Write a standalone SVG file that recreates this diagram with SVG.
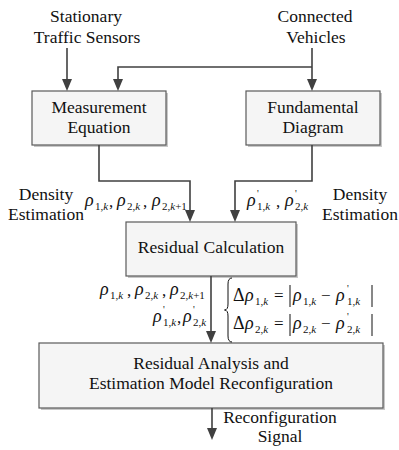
<svg xmlns="http://www.w3.org/2000/svg" width="399" height="450" viewBox="0 0 399 450">
  <!-- source labels -->
  <g id="sensors" fill="#111" font-size="17.5" text-anchor="middle">
    <text font-family="Liberation Serif" x="86" y="22">Stationary</text>
    <text font-family="Liberation Serif" x="87" y="43">Traffic Sensors</text>
  </g>
  <g id="vehicles" fill="#111" font-size="17.5" text-anchor="middle">
    <text font-family="Liberation Serif" x="315" y="22">Connected</text>
    <text font-family="Liberation Serif" x="316" y="43">Vehicles</text>
  </g>

  <!-- processing blocks: drop shadow, then box, then caption -->
  <g id="measurement" fill="#111" font-size="17.5" text-anchor="middle">
    <rect x="34" y="93" width="134" height="54" fill="#c8c8c8"/>
    <rect x="32" y="91" width="134" height="54" fill="#f5f5f5" stroke="#5a5a5a" stroke-width="1.2"/>
    <text font-family="Liberation Serif" x="99" y="113">Measurement</text>
    <text font-family="Liberation Serif" x="99" y="133">Equation</text>
  </g>
  <g id="fundamental" fill="#111" font-size="17.5" text-anchor="middle">
    <rect x="248" y="93" width="134" height="54" fill="#c8c8c8"/>
    <rect x="246" y="91" width="134" height="54" fill="#f5f5f5" stroke="#5a5a5a" stroke-width="1.2"/>
    <text font-family="Liberation Serif" x="313" y="113">Fundamental</text>
    <text font-family="Liberation Serif" x="313" y="133">Diagram</text>
  </g>
  <g id="residual" fill="#111" font-size="17.5" text-anchor="middle">
    <rect x="128" y="224" width="170" height="54" fill="#c8c8c8"/>
    <rect x="126" y="222" width="170" height="54" fill="#f5f5f5" stroke="#5a5a5a" stroke-width="1.2"/>
    <text font-family="Liberation Serif" x="211" y="253">Residual Calculation</text>
  </g>
  <g id="analysis" fill="#111" font-size="17.5" text-anchor="middle">
    <rect x="41" y="345" width="344" height="65" fill="#c8c8c8"/>
    <rect x="39" y="343" width="344" height="65" fill="#f5f5f5" stroke="#5a5a5a" stroke-width="1.2"/>
    <text font-family="Liberation Serif" x="211" y="369">Residual Analysis and</text>
    <text font-family="Liberation Serif" x="211" y="389">Estimation Model Reconfiguration</text>
  </g>

  <!-- connectors: lines plus filled arrowheads -->
  <g id="connectors">
    <g fill="none" stroke="#404040" stroke-width="1.6">
      <path d="M67,48 V80"/>
      <path d="M312,48 V80"/>
      <path d="M312,67 H118 V80"/>
      <path d="M99,145 V181 H190 V211"/>
      <path d="M312,145 V181 H235 V211"/>
      <path d="M211,276 V332"/>
      <path d="M212,408 V429"/>
    </g>
    <g fill="#404040">
      <polygon points="62,79 72,79 67,91"/>
      <polygon points="307,79 317,79 312,91"/>
      <polygon points="113,79 123,79 118,91"/>
      <polygon points="185,210 195,210 190,222"/>
      <polygon points="230,210 240,210 235,222"/>
      <polygon points="206,331 216,331 211,343"/>
      <polygon points="207,428 217,428 212,440"/>
    </g>
  </g>

  <!-- connector labels -->
  <g id="label-density-left" fill="#111" font-size="17.5" text-anchor="middle">
    <text font-family="Liberation Serif" x="46" y="200">Density</text>
    <text font-family="Liberation Serif" x="46" y="220">Estimation</text>
  </g>
  <g id="label-density-right" fill="#111" font-size="17.5" text-anchor="middle">
    <text font-family="Liberation Serif" x="360" y="200">Density</text>
    <text font-family="Liberation Serif" x="360" y="220">Estimation</text>
  </g>
  <g id="label-signal" fill="#111" font-size="17.5" text-anchor="middle">
    <text font-family="Liberation Serif" x="280" y="423">Reconfiguration</text>
    <text font-family="Liberation Serif" x="280" y="442">Signal</text>
  </g>

  <!-- measured densities (top left) -->
  <g id="rho-measured" fill="#111">
    <text font-family="Liberation Serif" font-size="18" font-style="italic" x="85" y="206">ρ</text>
    <text font-family="Liberation Serif" font-size="11" x="95" y="210">1,<tspan font-style="italic">k</tspan></text>
    <text font-family="Liberation Serif" font-size="17" x="109" y="207">,</text>
    <text font-family="Liberation Serif" font-size="18" font-style="italic" x="117" y="206">ρ</text>
    <text font-family="Liberation Serif" font-size="11" x="127" y="210">2,<tspan font-style="italic">k</tspan></text>
    <text font-family="Liberation Serif" font-size="17" x="143" y="207">,</text>
    <text font-family="Liberation Serif" font-size="18" font-style="italic" x="152" y="206">ρ</text>
    <text font-family="Liberation Serif" font-size="11" x="162" y="210">2,<tspan font-style="italic">k</tspan>+1</text>
  </g>

  <!-- fundamental diagram densities (top right) -->
  <g id="rho-fd" fill="#111">
    <text font-family="Liberation Serif" font-size="18" font-style="italic" x="247" y="206">ρ</text>
    <text font-family="Liberation Serif" font-size="10" x="257" y="197">'</text>
    <text font-family="Liberation Serif" font-size="11" x="257" y="210">1,<tspan font-style="italic">k</tspan></text>
    <text font-family="Liberation Serif" font-size="17" x="276" y="207">,</text>
    <text font-family="Liberation Serif" font-size="18" font-style="italic" x="285" y="206">ρ</text>
    <text font-family="Liberation Serif" font-size="10" x="295" y="197">'</text>
    <text font-family="Liberation Serif" font-size="11" x="295" y="210">2,<tspan font-style="italic">k</tspan></text>
  </g>

  <!-- densities passed to analysis -->
  <g id="rho-all" fill="#111">
    <text font-family="Liberation Serif" font-size="18" font-style="italic" x="100" y="295">ρ</text>
    <text font-family="Liberation Serif" font-size="11" x="110" y="299">1,<tspan font-style="italic">k</tspan></text>
    <text font-family="Liberation Serif" font-size="17" x="127" y="296">,</text>
    <text font-family="Liberation Serif" font-size="18" font-style="italic" x="135" y="295">ρ</text>
    <text font-family="Liberation Serif" font-size="11" x="145" y="299">2,<tspan font-style="italic">k</tspan></text>
    <text font-family="Liberation Serif" font-size="17" x="162" y="296">,</text>
    <text font-family="Liberation Serif" font-size="18" font-style="italic" x="170" y="295">ρ</text>
    <text font-family="Liberation Serif" font-size="11" x="180" y="299">2,<tspan font-style="italic">k</tspan>+1</text>
    <text font-family="Liberation Serif" font-size="18" font-style="italic" x="153" y="322">ρ</text>
    <text font-family="Liberation Serif" font-size="10" x="163" y="313">'</text>
    <text font-family="Liberation Serif" font-size="11" x="163" y="326">1,<tspan font-style="italic">k</tspan></text>
    <text font-family="Liberation Serif" font-size="17" x="177" y="323">,</text>
    <text font-family="Liberation Serif" font-size="18" font-style="italic" x="183" y="322">ρ</text>
    <text font-family="Liberation Serif" font-size="10" x="193" y="313">'</text>
    <text font-family="Liberation Serif" font-size="11" x="193" y="326">2,<tspan font-style="italic">k</tspan></text>
  </g>

  <!-- residual equations -->
  <g id="residual-eq" fill="#111">
    <path d="M232,278 Q228,278 228,284 L228,304 Q228,310 224.5,310 Q228,310 228,316 L228,336 Q228,342 232,342" fill="none" stroke="#111" stroke-width="1"/>
    <text font-family="Liberation Serif" font-size="18" x="233" y="301">Δ</text>
    <text font-family="Liberation Serif" font-size="18" font-style="italic" x="245" y="301">ρ</text>
    <text font-family="Liberation Serif" font-size="11" x="255" y="305">1,<tspan font-style="italic">k</tspan></text>
    <text font-family="Liberation Serif" font-size="17" x="274" y="301">=</text>
    <line x1="290" y1="285" x2="290" y2="307" stroke="#111" stroke-width="1"/>
    <text font-family="Liberation Serif" font-size="18" font-style="italic" x="293" y="301">ρ</text>
    <text font-family="Liberation Serif" font-size="11" x="303" y="305">1,<tspan font-style="italic">k</tspan></text>
    <text font-family="Liberation Serif" font-size="17" x="321" y="301">−</text>
    <text font-family="Liberation Serif" font-size="18" font-style="italic" x="336" y="301">ρ</text>
    <text font-family="Liberation Serif" font-size="10" x="347" y="292">'</text>
    <text font-family="Liberation Serif" font-size="11" x="347" y="305">1,<tspan font-style="italic">k</tspan></text>
    <line x1="372" y1="285" x2="372" y2="307" stroke="#111" stroke-width="1"/>

    <text font-family="Liberation Serif" font-size="18" x="233" y="329">Δ</text>
    <text font-family="Liberation Serif" font-size="18" font-style="italic" x="245" y="329">ρ</text>
    <text font-family="Liberation Serif" font-size="11" x="255" y="333">2,<tspan font-style="italic">k</tspan></text>
    <text font-family="Liberation Serif" font-size="17" x="274" y="329">=</text>
    <line x1="290" y1="314" x2="290" y2="336" stroke="#111" stroke-width="1"/>
    <text font-family="Liberation Serif" font-size="18" font-style="italic" x="293" y="329">ρ</text>
    <text font-family="Liberation Serif" font-size="11" x="303" y="333">2,<tspan font-style="italic">k</tspan></text>
    <text font-family="Liberation Serif" font-size="17" x="321" y="329">−</text>
    <text font-family="Liberation Serif" font-size="18" font-style="italic" x="336" y="329">ρ</text>
    <text font-family="Liberation Serif" font-size="10" x="347" y="320">'</text>
    <text font-family="Liberation Serif" font-size="11" x="347" y="333">2,<tspan font-style="italic">k</tspan></text>
    <line x1="372" y1="314" x2="372" y2="336" stroke="#111" stroke-width="1"/>
  </g>
</svg>
